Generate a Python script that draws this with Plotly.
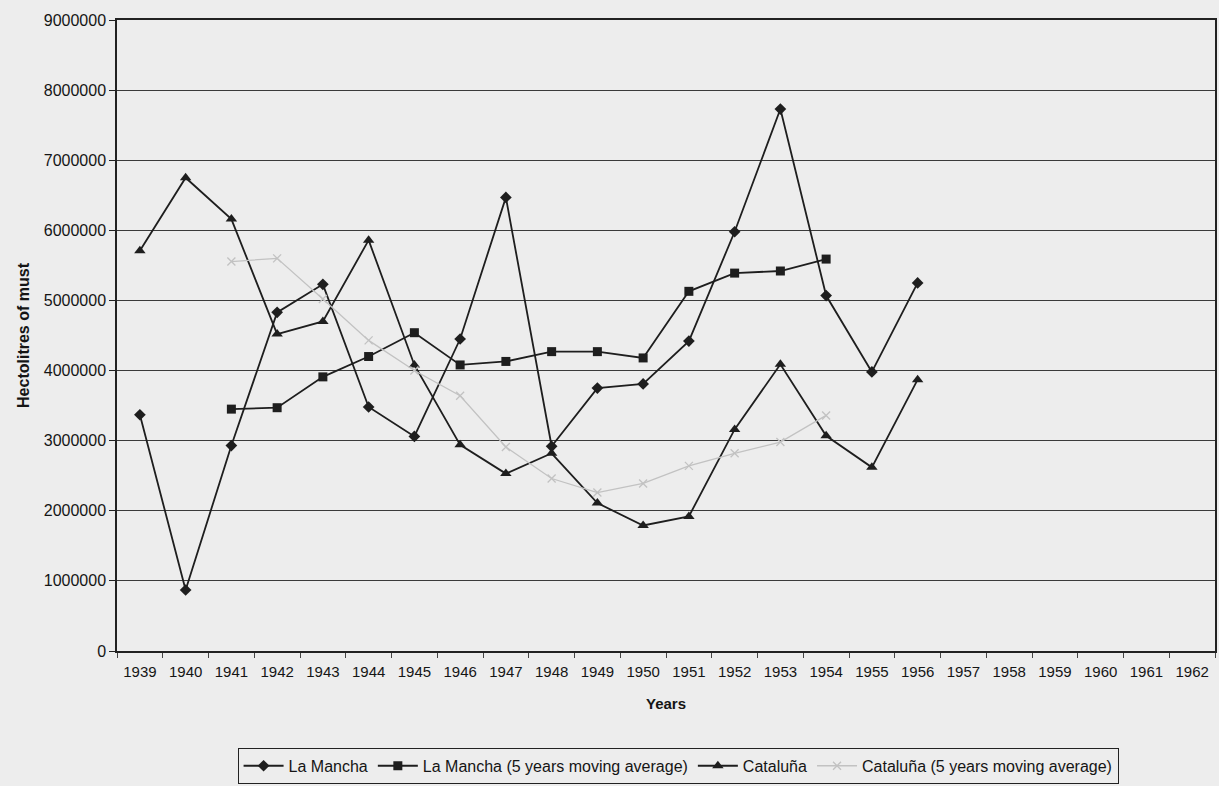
import plotly.graph_objects as go

years = [str(y) for y in range(1939, 1963)]

la_mancha_years = [str(y) for y in range(1939, 1957)]
la_mancha = [3370000, 870000, 2930000, 4830000, 5230000, 3480000, 3060000, 4450000,
             6470000, 2920000, 3750000, 3810000, 4420000, 5980000, 7730000, 5070000,
             3980000, 5250000]

avg_years = [str(y) for y in range(1941, 1955)]
la_mancha_avg = [3450000, 3470000, 3910000, 4200000, 4540000, 4080000, 4130000,
                 4270000, 4270000, 4180000, 5130000, 5390000, 5420000, 5590000]

cataluna_years = [str(y) for y in range(1939, 1957)]
cataluna = [5710000, 6750000, 6160000, 4520000, 4700000, 5860000, 4080000, 2940000,
            2530000, 2820000, 2110000, 1790000, 1920000, 3160000, 4090000, 3070000,
            2620000, 3870000]

cataluna_avg = [5555000, 5600000, 5020000, 4430000, 4000000, 3640000, 2910000,
                2460000, 2260000, 2390000, 2640000, 2820000, 2980000, 3360000]

y_ticks = list(range(0, 9000001, 1000000))

LINE = "#1e1e1e"
LIGHT = "#c2c2c2"
BG = "#ededed"
FONT = "Liberation Sans, Arial, sans-serif"
TXT = "#151515"

fig = go.Figure()
fig.add_trace(go.Scatter(
    x=la_mancha_years, y=la_mancha, name="La Mancha", mode="lines+markers",
    line=dict(color=LINE, width=1.8),
    marker=dict(symbol="diamond", size=9, color=LINE)))
fig.add_trace(go.Scatter(
    x=avg_years, y=la_mancha_avg, name="La Mancha (5 years moving average)",
    mode="lines+markers", line=dict(color=LINE, width=1.8),
    marker=dict(symbol="square", size=9, color=LINE)))
fig.add_trace(go.Scatter(
    x=cataluna_years, y=cataluna, name="Cataluña", mode="lines+markers",
    line=dict(color=LINE, width=1.8),
    marker=dict(symbol="triangle-up", size=10, color=LINE)))
fig.add_trace(go.Scatter(
    x=avg_years, y=cataluna_avg, name="Cataluña (5 years moving average)",
    mode="lines+markers", line=dict(color=LIGHT, width=1.3),
    marker=dict(symbol="x-thin", size=8, line=dict(color=LIGHT, width=1.3), color=LIGHT)))

fig.update_layout(
    width=1219, height=786,
    margin=dict(l=117, r=2, t=20, b=133),
    paper_bgcolor=BG, plot_bgcolor=BG,
    font=dict(family=FONT, size=15, color=TXT),
    showlegend=True,
    legend=dict(
        orientation="h", x=0.511, y=-0.182, xanchor="center", yanchor="middle",
        bgcolor=BG, bordercolor="#222222", borderwidth=1,
        font=dict(family=FONT, size=16, color=TXT),
        itemwidth=40, tracegroupgap=0,
    ),
)

fig.update_xaxes(
    type="category", categoryorder="array", categoryarray=years,
    range=[-0.5, len(years) - 0.5],
    showline=True, linecolor="#222222", linewidth=1.5, mirror=True,
    showgrid=False, zeroline=False,
    ticks="outside", tickson="boundaries", ticklen=5, tickcolor="#444444",
    ticklabelstandoff=6,
    tickfont=dict(family=FONT, size=15, color=TXT),
    title=dict(text="<b>Years</b>", font=dict(family=FONT, size=15), standoff=20),
)
fig.update_yaxes(
    range=[0, 9000000], tickvals=y_ticks, ticktext=[str(v) for v in y_ticks],
    showline=True, linecolor="#222222", linewidth=1.5, mirror=True,
    showgrid=True, gridcolor="#3a3a3a", gridwidth=1, zeroline=False,
    ticks="outside", ticklen=6, tickcolor="#222222",
    tickfont=dict(family=FONT, size=16, color=TXT),
    title=dict(text="<b>Hectolitres of must</b>", font=dict(family=FONT, size=16), standoff=10),
)

fig.write_html("out.html")
